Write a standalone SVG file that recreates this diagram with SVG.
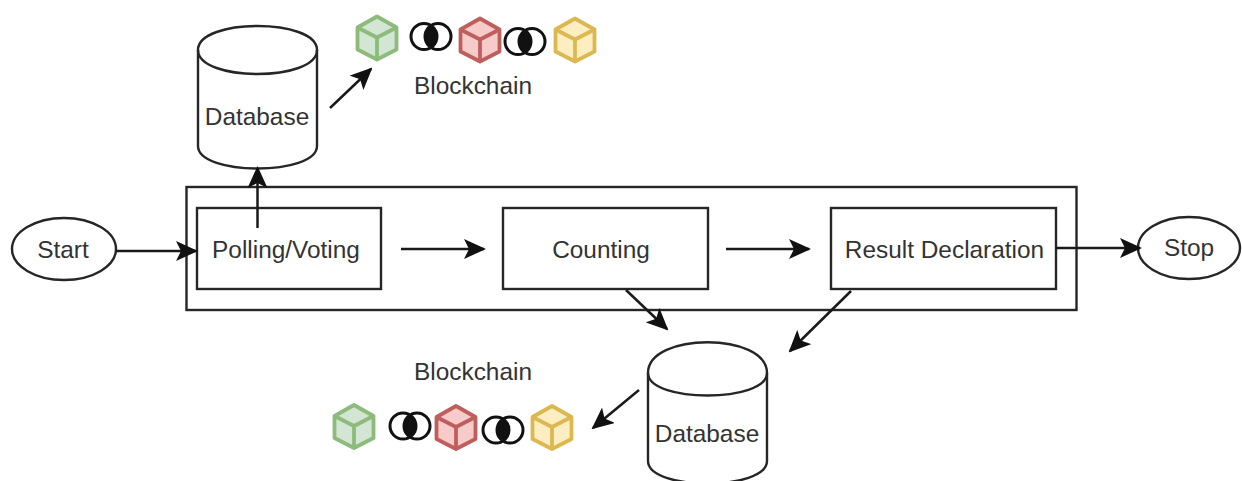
<svg xmlns="http://www.w3.org/2000/svg" width="1242" height="481" viewBox="0 0 1242 481">
<style>
.s{fill:none;stroke:#262626;stroke-width:2.4}
.w{fill:#fff;stroke:#262626;stroke-width:2.4}
text{font-family:"Liberation Sans",Arial,sans-serif;font-size:24.4px;fill:#333;text-anchor:middle}
.c{fill:none;stroke:#1a1a1a;stroke-width:2.5}
.l{stroke-width:3.800;stroke-linejoin:round}
.g{fill:#d3e5d3;stroke:#8dbb7c}
.r{fill:#f7cbc9;stroke:#bf5f5d}
.y{fill:#fdeec2;stroke:#dcb851}
.k{fill:none;stroke:#111;stroke-width:3}
</style>
<defs>
<marker id="a" viewBox="0 0 22 20" refX="20" refY="10" markerWidth="22" markerHeight="20" markerUnits="userSpaceOnUse" orient="auto"><path d="M0 0L22 10L0 20L5 10Z" fill="#111"/></marker>
<g id="cube"><path d="M0-21L19.500-10V12L0 22L-19.500 12V-10Z"/><path d="M-19.500-10L0 0L19.500-10M0 0V22" fill="none"/></g>
<g id="link"><path d="M0-10.500A13 13 0 0 1 0 10.500A13 13 0 0 1 0-10.500Z" fill="#111"/><circle cx="-7" cy="0" r="13" class="k"/><circle cx="7" cy="0" r="13" class="k"/></g>
</defs>
<rect width="1242" height="481" fill="#fff"/>
<g id="container"><rect x="186.500" y="187" width="890" height="123" class="s"/></g>
<g id="db-top"><path d="M198 50V146C198 176 317 176 317 146V50C317 18 198 18 198 50Z" class="w"/><path d="M198 50C198 82 317 82 317 50" class="s"/><text x="257" y="125">Database</text></g>
<g id="start"><ellipse cx="64" cy="249" rx="52" ry="31" class="w"/><text x="63" y="258">Start</text></g>
<g id="polling"><rect x="197" y="208" width="184" height="81" class="w"/><text x="286" y="258">Polling/Voting</text></g>
<g id="counting"><rect x="503" y="208" width="205" height="81" class="w"/><text x="601" y="258">Counting</text></g>
<g id="result"><rect x="831" y="208" width="225" height="81" class="w"/><text x="944.500" y="258">Result Declaration</text></g>
<g id="stop"><ellipse cx="1189" cy="248" rx="51" ry="31" class="w"/><text x="1189" y="256">Stop</text></g>
<g id="db-bottom"><path d="M648 373V461C648 491 767 491 767 461V373C767 332 648 332 648 373Z" class="w"/><path d="M648 373C648 403 767 403 767 373" class="s"/><text x="707" y="442">Database</text></g>
<g id="chain-top"><use href="#cube" x="377" y="37.500" class="l g"/><use href="#link" x="431" y="36.500"/><use href="#cube" x="480" y="39.500" class="l r"/><use href="#link" x="525" y="41.500"/><use href="#cube" x="575" y="39.500" class="l y"/><text x="473" y="94">Blockchain</text></g>
<g id="chain-bottom"><use href="#cube" x="354" y="426" class="l g"/><use href="#link" x="410" y="426"/><use href="#cube" x="456" y="427" class="l r"/><use href="#link" x="503" y="430"/><use href="#cube" x="552" y="427" class="l y"/><text x="473" y="380">Blockchain</text></g>
<g id="connectors" class="c">
<path d="M116 251H196" marker-end="url(#a)"/>
<path d="M257.500 228V168" marker-end="url(#a)"/>
<path d="M330 108L371 69" marker-end="url(#a)"/>
<path d="M401 249H484" marker-end="url(#a)"/>
<path d="M726 249H809" marker-end="url(#a)"/>
<path d="M1056 248H1140" marker-end="url(#a)"/>
<path d="M626 290L667 329" marker-end="url(#a)"/>
<path d="M851 291L790 351" marker-end="url(#a)"/>
<path d="M639 390L593 428" marker-end="url(#a)"/>
</g>
</svg>
